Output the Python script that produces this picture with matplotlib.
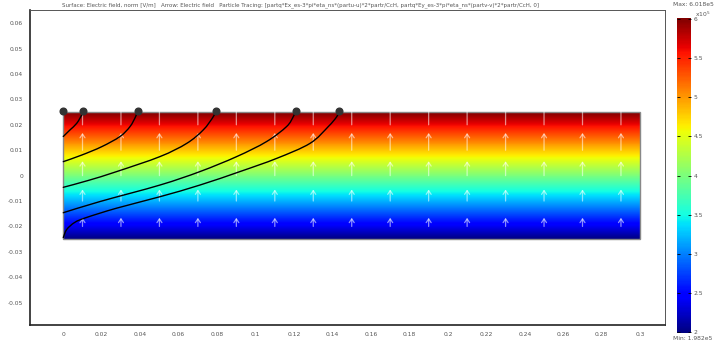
import numpy as np
import matplotlib
matplotlib.use("Agg")
import matplotlib.pyplot as plt
from matplotlib.patches import FancyArrowPatch, Rectangle, PathPatch
from matplotlib.path import Path
from matplotlib.colors import Normalize
from matplotlib.cm import ScalarMappable

# ---- data ---------------------------------------------------------------
# channel geometry [m]
channel_x = [0.0, 0.3]
channel_y = [-0.025, 0.025]

# electric field norm [V/m] at the bottom and top walls
field_min = 1.982e5
field_max = 6.018e5

# arrow grid (tail positions) and field strength on each arrow row
arrow_x = [0.01, 0.03, 0.05, 0.07, 0.09, 0.11, 0.13, 0.15,
           0.17, 0.19, 0.21, 0.23, 0.25, 0.27, 0.29]
arrow_y = [-0.02, -0.01, 0.0, 0.01, 0.02]
arrow_E = [2.4e5, 3.2e5, 4.0e5, 4.8e5, 5.6e5]

# particle trajectories (x, y) in metres
traj_1_x = [0.0, 0.0035, 0.0070, 0.0096, 0.0104]
traj_1_y = [0.0154, 0.0180, 0.0206, 0.0239, 0.0255]

traj_2_x = [0.0, 0.0096, 0.0200, 0.0295, 0.0347, 0.0376, 0.0387]
traj_2_y = [0.0055, 0.0081, 0.0114, 0.0154, 0.0193, 0.0232, 0.0255]

traj_3_x = [0.0, 0.0130, 0.0278, 0.0503, 0.0642, 0.0728, 0.0780, 0.0792]
traj_3_y = [-0.0046, -0.0019, 0.0016, 0.0075, 0.0127, 0.0180, 0.0232, 0.0255]

traj_4_x = [0.0, 0.0191, 0.0503, 0.0711, 0.0902, 0.1057, 0.1161, 0.1196, 0.1210]
traj_4_y = [-0.0146, -0.0102, -0.0037, 0.0016, 0.0075, 0.0134, 0.0193, 0.0232, 0.0255]

traj_5_x = [0.0, 0.0018, 0.0060, 0.0120, 0.0278, 0.0503, 0.0711, 0.0919, 0.1110,
            0.1283, 0.1378, 0.1422, 0.1435]
traj_5_y = [-0.0244, -0.0212, -0.0184, -0.0165, -0.0128, -0.0083, -0.0037, 0.0016,
            0.0068, 0.0127, 0.0193, 0.0232, 0.0255]

# final particle positions on the top wall
particle_end_x = [0.0, 0.0104, 0.0387, 0.0792, 0.1210, 0.1435]
particle_end_y = [0.0255, 0.0255, 0.0255, 0.0255, 0.0255, 0.0255]

# axis ticks
x_ticks = [0, 0.02, 0.04, 0.06, 0.08, 0.1, 0.12, 0.14, 0.16, 0.18, 0.2,
           0.22, 0.24, 0.26, 0.28, 0.3]
x_tick_labels = ["0", "0.02", "0.04", "0.06", "0.08", "0.1", "0.12", "0.14",
                 "0.16", "0.18", "0.2", "0.22", "0.24", "0.26", "0.28", "0.3"]
y_ticks = [-0.05, -0.04, -0.03, -0.02, -0.01, 0, 0.01, 0.02, 0.03, 0.04, 0.05, 0.06]
y_tick_labels = ["-0.05", "-0.04", "-0.03", "-0.02", "-0.01", "0",
                 "0.01", "0.02", "0.03", "0.04", "0.05", "0.06"]
cbar_ticks = [2e5, 2.5e5, 3e5, 3.5e5, 4e5, 4.5e5, 5e5, 5.5e5, 6e5]
cbar_tick_labels = ["2", "2.5", "3", "3.5", "4", "4.5", "5", "5.5", "6"]

title = ("Surface: Electric field, norm [V/m]   Arrow: Electric field   "
         "Particle Tracing: [partq*Ex_es-3*pi*eta_ns*(partu-u)*2*partr/CcH, "
         "partq*Ey_es-3*pi*eta_ns*(partv-v)*2*partr/CcH, 0]")


def smooth_path(xs, ys):
    """Cubic Bezier path passing through the given points (Catmull-Rom tangents)."""
    p = np.column_stack([xs, ys])
    ext = np.vstack([p[0], p, p[-1]])
    verts = [p[0]]
    codes = [Path.MOVETO]
    for i in range(len(p) - 1):
        p0, p1, p2, p3 = ext[i], ext[i + 1], ext[i + 2], ext[i + 3]
        verts += [p1 + (p2 - p0) / 6, p2 - (p3 - p1) / 6, p2]
        codes += [Path.CURVE4] * 3
    return Path(verts, codes)


# ---- figure -------------------------------------------------------------
plt.rcParams["font.family"] = ["DejaVu Sans"]
txt_color = "#555555"
fs = 4.3

fig = plt.figure(figsize=(7.17, 3.44), dpi=100)
ax = fig.add_axes([30 / 717, 1 - 325 / 344, 635 / 717, 315 / 344])
ax.set_xlim(-0.0173, 0.3129)
ax.set_ylim(-0.0588, 0.0652)

cmap = plt.get_cmap("jet")
norm = Normalize(vmin=field_min, vmax=field_max)

# field norm surface, varying across the channel height
Z = np.array([[field_min, field_min], [field_max, field_max]])
ax.contourf(channel_x, channel_y, Z, levels=np.linspace(field_min, field_max, 256),
            cmap=cmap, norm=norm, antialiased=False, zorder=1)
ax.add_patch(Rectangle((channel_x[0], channel_y[0]), channel_x[1] - channel_x[0],
                       channel_y[1] - channel_y[0], fill=False,
                       edgecolor="#888888", lw=1.0, zorder=2))

# electric field arrows
arrow_scale = 1.42e-8  # metres of arrow per V/m
for yv, ev in zip(arrow_y, arrow_E):
    for xv in arrow_x:
        arr = FancyArrowPatch((xv, yv), (xv, yv + ev * arrow_scale),
                              arrowstyle="->,head_length=0.45,head_width=0.3",
                              mutation_scale=6, color="white", alpha=0.55,
                              lw=0.9, shrinkA=0, shrinkB=0, zorder=3)
        ax.add_patch(arr)

# particle paths
for tx, ty in [(traj_1_x, traj_1_y), (traj_2_x, traj_2_y), (traj_3_x, traj_3_y),
               (traj_4_x, traj_4_y), (traj_5_x, traj_5_y)]:
    ax.add_patch(PathPatch(smooth_path(tx, ty), fill=False, edgecolor="black",
                           lw=1.0, capstyle="round", zorder=4))
ax.plot(particle_end_x, particle_end_y, "o", color="#333333", ms=4.8, zorder=5,
        clip_on=False)

ax.set_xticks(x_ticks)
ax.set_xticklabels(x_tick_labels)
ax.set_yticks(y_ticks)
ax.set_yticklabels(y_tick_labels)
ax.tick_params(length=0, labelsize=fs, labelcolor=txt_color, pad=5)
for side in ["left", "bottom"]:
    ax.spines[side].set_color("#222222")
    ax.spines[side].set_linewidth(1.2)
for side in ["top", "right"]:
    ax.spines[side].set_color("#555555")
    ax.spines[side].set_linewidth(0.7)

fig.text(62 / 717, 1 - 5 / 344, title, ha="left", va="center",
         fontsize=4.0, color=txt_color)

# colour legend
cax = fig.add_axes([677 / 717, 1 - 333 / 344, 14 / 717, 315 / 344])
sm = ScalarMappable(norm=norm, cmap=cmap)
cb = fig.colorbar(sm, cax=cax)
cb.outline.set_visible(False)
cb.set_ticks(cbar_ticks)
cb.set_ticklabels(cbar_tick_labels)
cax.tick_params(direction="in", length=2.5, width=0.6, color="black",
                labelsize=fs, labelcolor=txt_color, pad=2, left=True)
fig.text(695 / 717, 1 - 14 / 344, r"x10$^5$", ha="left", va="center",
         fontsize=fs, color=txt_color)
fig.text(673 / 717, 1 - 5 / 344, "Max: 6.018e5", ha="left", va="center",
         fontsize=fs, color=txt_color)
fig.text(673 / 717, 1 - 339 / 344, "Min: 1.982e5", ha="left", va="center",
         fontsize=fs, color=txt_color)

fig.savefig("out.png", dpi=100)
